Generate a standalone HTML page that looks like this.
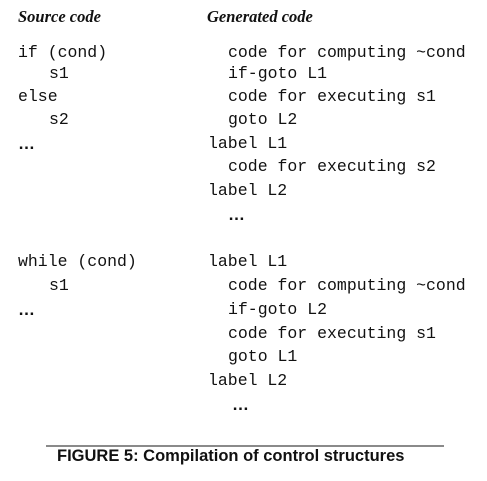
<!DOCTYPE html>
<html><head><style>
body{margin:0;width:487px;height:481px;background:#fff;position:relative;overflow:hidden}
.t{position:absolute;font-family:"Liberation Mono",monospace;font-size:16.5px;line-height:20px;color:#111;white-space:pre}
.h{position:absolute;font-family:"Liberation Serif",serif;font-style:italic;font-weight:bold;font-size:16.5px;line-height:20px;color:#111}
.d{position:absolute;font-family:"Liberation Sans",sans-serif;font-weight:bold;font-size:17px;line-height:20px;color:#111}
</style></head><body>
<div class="h" style="left:18px;top:7px">Source code</div>
<div class="h" style="left:207px;top:7px">Generated code</div>

<div class="t" style="left:18px;top:43px">if (cond)</div>
<div class="t" style="left:49px;top:64px">s1</div>
<div class="t" style="left:18px;top:87px">else</div>
<div class="t" style="left:49px;top:110px">s2</div>
<div class="d" style="left:18px;top:134px">…</div>

<div class="t" style="left:228px;top:43px">code for computing ~cond</div>
<div class="t" style="left:228px;top:64px">if-goto L1</div>
<div class="t" style="left:228px;top:87px">code for executing s1</div>
<div class="t" style="left:228px;top:110px">goto L2</div>
<div class="t" style="left:208px;top:134px">label L1</div>
<div class="t" style="left:228px;top:157px">code for executing s2</div>
<div class="t" style="left:208px;top:181px">label L2</div>
<div class="d" style="left:228px;top:205px">…</div>

<div class="t" style="left:18px;top:252px">while (cond)</div>
<div class="t" style="left:49px;top:276px">s1</div>
<div class="d" style="left:18px;top:300px">…</div>

<div class="t" style="left:208px;top:252px">label L1</div>
<div class="t" style="left:228px;top:276px">code for computing ~cond</div>
<div class="t" style="left:228px;top:300px">if-goto L2</div>
<div class="t" style="left:228px;top:324px">code for executing s1</div>
<div class="t" style="left:228px;top:347px">goto L1</div>
<div class="t" style="left:208px;top:371px">label L2</div>
<div class="d" style="left:232px;top:395px">…</div>

<div style="position:absolute;left:46px;top:445px;width:398px;height:2px;background:#8a8a8a"></div>
<div style="position:absolute;left:57px;top:446px;font-family:'Liberation Sans',sans-serif;font-weight:bold;font-size:16.5px;line-height:20px;color:#111">FIGURE 5: Compilation of control structures</div>
</body></html>
